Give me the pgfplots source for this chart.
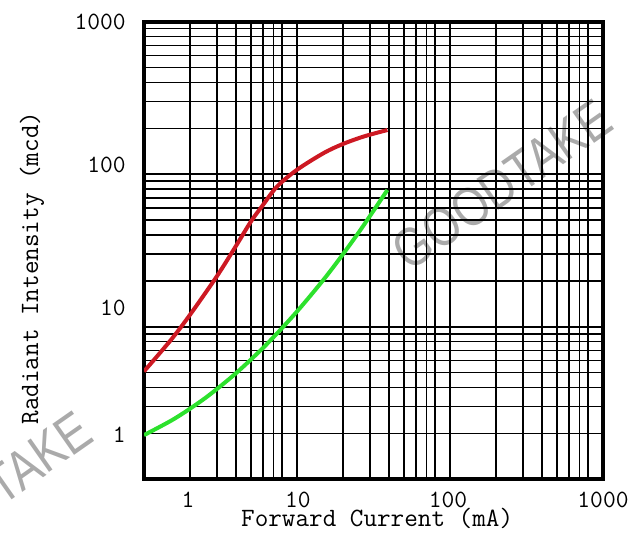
\documentclass[border=0pt]{standalone}
\usepackage{pgfplots}
\pgfplotsset{compat=1.18}
\usepackage{fontspec}
\newfontfamily\wmfont{Liberation Sans}
\definecolor{curvered}{RGB}{205,25,35}
\definecolor{curvegreen}{RGB}{45,225,45}
\definecolor{wmgray}{RGB}{170,170,170}

\begin{document}
\begin{tikzpicture}
\path[use as bounding box] (-72pt,-29.35pt) rectangle (248.5pt,239.65pt);
% watermarks
\node[wmgray, rotate=35, xscale=0.82, font=\wmfont\fontsize{27.5}{28}\selectfont] at (179pt,147.15pt) {GOODTAKE};
\node[wmgray, rotate=35, xscale=0.82, font=\wmfont\fontsize{27.5}{28}\selectfont] at (-81pt,-9pt) {GOODTAKE};
\begin{axis}[
  at={(0,0)}, anchor=south west,
  scale only axis, width=229.5pt, height=228.8pt,
  xmode=log, ymode=log,
  xmin=1, xmax=1000, ymin=1, ymax=1000,
  axis line style={line width=2pt},
  major tick length=0pt, minor tick length=0pt,
  xtick={1.94,10.15,97,1000}, xticklabels={1,10,100,1000},
  ytick={1.95,13.3,115,1000}, yticklabels={1,10,100,1000},
  minor xtick={2,3,4,5,6,7,8,10,20,30,40,50,60,70,80,100,200,300,400,500,600,700,800},
  minor ytick={2,3,4,5,6,7,8,9,10,20,30,40,50,60,70,80,90,100,200,300,400,500,600,700,800,900},
  xmajorgrids=false, ymajorgrids=false,
  xminorgrids=true, yminorgrids=true,
  minor grid style={black, line width=0.75pt},
  /pgf/number format/assume math mode=true,
  ticklabel style={font=\ttfamily\fontsize{12.4}{14}\selectfont},
  xticklabel style={anchor=center, yshift=-10.3pt},
  yticklabel style={anchor=east, inner sep=0pt, xshift=-9pt},
  xlabel={Forward Current (mA)},
  ylabel={Radiant Intensity (mcd)},
  label style={font=\ttfamily\fontsize{13.2}{15}\selectfont},
  xlabel style={at={(axis description cs:0.508,-0.0846)}, anchor=center},
  ylabel style={at={(axis description cs:-0.244,0.4615)}, anchor=center},
]
\addplot[curvered, line width=2pt, smooth] coordinates {
  (1.0,5.1) (1.5,8.2) (2.0,12.0) (3.0,21.5) (4.0,34) (5.0,49) (6.0,63)
  (7.4,83) (10,107) (15,138) (20,158) (27.4,177) (39,195)
};
\addplot[curvegreen, line width=2pt, smooth] coordinates {
  (1.0,1.95) (1.585,2.50) (2.512,3.41) (3.981,4.95) (6.31,7.65) (10.0,12.6)
  (15.85,22.0) (25.12,41.1) (39,78.9)
};
\end{axis}
\end{tikzpicture}
\end{document}
